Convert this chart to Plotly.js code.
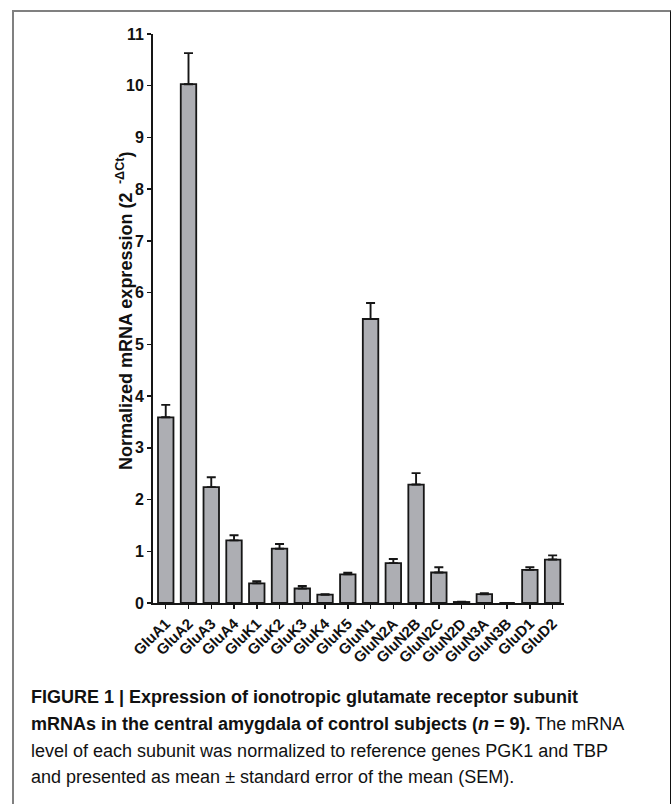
<!DOCTYPE html>
<html>
<head>
<meta charset="utf-8">
<script src="https://cdn.plot.ly/plotly-3.0.1.min.js"></script>
<style>
  html, body { margin: 0; padding: 0; background: #fff; }
  #wrap { position: relative; width: 671px; height: 804px; overflow: hidden; }
  #frame { position: absolute; left: 12px; top: 10px; width: 656px; height: 820px;
           border-left: 2px solid #808080; border-top: 2px solid #808080; border-right: 1.5px solid #111; }
  #chart { position: absolute; left: 0; top: 0; width: 671px; height: 804px; }
</style>
</head>
<body>
<div id="wrap">
  <div id="frame"></div>
  <div id="chart"></div>
</div>
<script>
const subunits = ["GluA1","GluA2","GluA3","GluA4","GluK1","GluK2","GluK3","GluK4","GluK5",
                  "GluN1","GluN2A","GluN2B","GluN2C","GluN2D","GluN3A","GluN3B","GluD1","GluD2"];
const meanExpr = [3.59, 10.03, 2.24, 1.21, 0.38, 1.05, 0.28, 0.16, 0.555,
                  5.49, 0.77, 2.29, 0.59, 0.02, 0.17, 0.0, 0.64, 0.84];
const semExpr  = [0.24, 0.60, 0.19, 0.10, 0.04, 0.09, 0.05, 0.01, 0.03,
                  0.31, 0.08, 0.22, 0.10, 0.005, 0.02, 0.0, 0.05, 0.08];
const yTicks = [0,1,2,3,4,5,6,7,8,9,10,11];
const captionLines = [
  "<b>FIGURE 1 | Expression of ionotropic glutamate receptor subunit</b>",
  "<b>mRNAs in the central amygdala of control subjects (<i>n</i> = 9).</b> The mRNA",
  "level of each subunit was normalized to reference genes PGK1 and TBP",
  "and presented as mean ± standard error of the mean (SEM)."
];
const yTitle = "Normalized mRNA expression (2 <sup> -ΔCt</sup>)";

const W = 671, H = 804;
const L = 153, R = 564, T = 34, B = 603;
const px2x = p => (p - L) / (R - L);
const py2y = p => (B - p) / (B - T);

const trace = {
  type: "bar",
  x: subunits.map((_, i) => i),
  y: meanExpr,
  width: 0.68,
  marker: { color: "#adaeb3", line: { color: "#161616", width: 1.8 } },
  error_y: { type: "data", symmetric: false, array: semExpr, arrayminus: subunits.map(() => 0),
             color: "#161616", thickness: 1.9, width: 4.5 },
  hoverinfo: "x+y"
};

const annotations = captionLines.map((t, i) => ({
  text: t, xref: "paper", yref: "paper", x: px2x(29), y: py2y(697 + i * 26.8),
  xanchor: "left", yanchor: "middle", showarrow: false, align: "left",
  font: { family: "Liberation Sans, Arial, sans-serif", size: 18, color: "#111" }
}));
annotations.push({
  text: "<b>" + yTitle + "</b>", xref: "paper", yref: "paper",
  x: px2x(124), y: py2y(311), textangle: -90, showarrow: false,
  xanchor: "center", yanchor: "middle",
  font: { family: "Arial, Liberation Sans, sans-serif", size: 18, color: "#111" }
});

const layout = {
  width: W, height: H,
  margin: { l: L, r: W - R, t: T, b: H - B, pad: 0 },
  paper_bgcolor: "rgba(0,0,0,0)", plot_bgcolor: "rgba(0,0,0,0)",
  showlegend: false,
  font: { family: "Arial, Liberation Sans, sans-serif", color: "#111" },
  xaxis: {
    range: [-0.56, 17.5], tickmode: "array", tickvals: subunits.map((_, i) => i),
    ticktext: subunits.map(s => "<b>" + s + "</b>"), tickangle: -45,
    ticks: "outside", ticklen: 4, tickwidth: 1.5, tickcolor: "#161616",
    showline: true, linecolor: "#161616", linewidth: 2, showgrid: false, zeroline: false,
    tickfont: { size: 15, color: "#111" }, fixedrange: true
  },
  yaxis: {
    range: [0, 11], tickmode: "array", tickvals: yTicks,
    ticktext: yTicks.map(v => "<b>" + v + "</b>"),
    ticks: "outside", ticklen: 4, tickwidth: 1.5, tickcolor: "#161616",
    showline: true, linecolor: "#161616", linewidth: 2, showgrid: false, zeroline: false,
    tickfont: { size: 16, color: "#111" }, fixedrange: true
  },
  annotations: annotations
};

Plotly.newPlot("chart", [trace], layout, { displayModeBar: false, staticPlot: true });
</script>
</body>
</html>
